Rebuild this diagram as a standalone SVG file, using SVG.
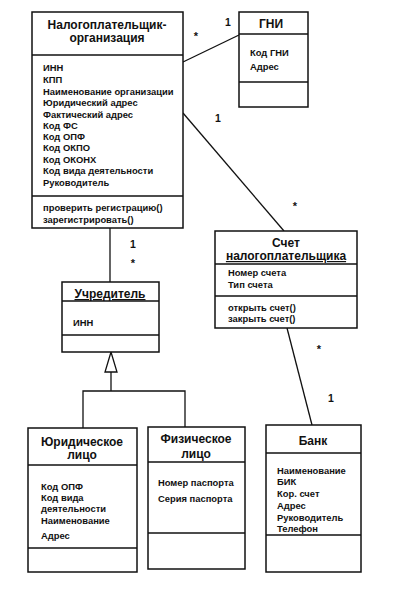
<svg xmlns="http://www.w3.org/2000/svg" width="400" height="600" viewBox="0 0 400 600">
<style>
.box{fill:#fff;stroke:#111;stroke-width:1.5}
.sep{stroke:#111;stroke-width:1.3}
.ln{stroke:#111;stroke-width:1.3;fill:none}
text{font-family:"Liberation Sans",Arial,sans-serif;font-weight:bold;fill:#111}
.t{font-size:12px;text-anchor:middle}
.a{font-size:9.4px}
.m{font-size:11px;text-anchor:middle}
.n{font-size:10.5px;text-anchor:middle}
.u{text-decoration:underline}
</style>
<rect width="400" height="600" fill="#fff"/>
<g id="connectors">
<line class="ln" x1="183" y1="62" x2="239" y2="35"/>
<line class="ln" x1="183" y1="113" x2="284" y2="231"/>
<line class="ln" x1="287" y1="328" x2="312" y2="425"/>
<line class="ln" x1="110" y1="228" x2="110" y2="282"/>
<polygon points="111,352 105,372 117,372" fill="#fff" stroke="#111" stroke-width="1.3"/>
<polyline class="ln" points="111,372 111,391"/>
<polyline class="ln" points="83,428 83,391 185,391 185,428"/>
<text class="m" x="196" y="40">*</text>
<text class="n" x="228" y="26">1</text>
<text class="n" x="218" y="122">1</text>
<text class="m" x="295" y="210">*</text>
<text class="n" x="133" y="248">1</text>
<text class="m" x="133" y="267">*</text>
<text class="m" x="319" y="353">*</text>
<text class="n" x="331" y="402">1</text>
</g>
<g id="org">
<rect class="box" x="32" y="12" width="151" height="216"/>
<line class="sep" x1="32" y1="55" x2="183" y2="55"/>
<line class="sep" x1="32" y1="196" x2="183" y2="196"/>
<text class="t" x="107" y="29">Налогоплательщик-</text>
<text class="t" x="107" y="42">организация</text>
<text class="a" x="43" y="71">ИНН</text>
<text class="a" x="43" y="83">КПП</text>
<text class="a" x="43" y="95">Наименование организации</text>
<text class="a" x="43" y="106">Юридический адрес</text>
<text class="a" x="43" y="118">Фактический адрес</text>
<text class="a" x="43" y="129">Код ФС</text>
<text class="a" x="43" y="140">Код ОПФ</text>
<text class="a" x="43" y="151">Код ОКПО</text>
<text class="a" x="43" y="163">Код ОКОНХ</text>
<text class="a" x="43" y="174">Код вида деятельности</text>
<text class="a" x="43" y="186">Руководитель</text>
<text class="a" x="43" y="211">проверить регистрацию()</text>
<text class="a" x="43" y="223">зарегистрировать()</text>
</g>
<g id="gni">
<rect class="box" x="239" y="12" width="69" height="95"/>
<line class="sep" x1="239" y1="34" x2="308" y2="34"/>
<line class="sep" x1="239" y1="82" x2="308" y2="82"/>
<text class="t" x="271" y="28">ГНИ</text>
<text class="a" x="250" y="56">Код ГНИ</text>
<text class="a" x="250" y="70">Адрес</text>
</g>
<g id="account">
<rect class="box" x="215" y="231" width="142" height="97"/>
<line class="sep" x1="215" y1="264" x2="357" y2="264"/>
<line class="sep" x1="215" y1="296" x2="357" y2="296"/>
<text class="t" x="286" y="247">Счет</text>
<text class="t u" x="286" y="260">налогоплательщика</text>
<text class="a" x="228" y="276">Номер счета</text>
<text class="a" x="228" y="288">Тип счета</text>
<text class="a" x="228" y="311">открыть счет()</text>
<text class="a" x="228" y="322">закрыть счет()</text>
</g>
<g id="founder">
<rect class="box" x="62" y="282" width="97" height="70"/>
<line class="sep" x1="62" y1="301" x2="159" y2="301"/>
<line class="sep" x1="62" y1="335" x2="159" y2="335"/>
<text class="t u" x="110" y="298">Учредитель</text>
<text class="a" x="73" y="326">ИНН</text>
</g>
<g id="legal">
<rect class="box" x="28" y="428" width="109" height="144"/>
<line class="sep" x1="28" y1="465" x2="137" y2="465"/>
<line class="sep" x1="28" y1="548" x2="137" y2="548"/>
<text class="t" x="82" y="446">Юридическое</text>
<text class="t" x="82" y="459">лицо</text>
<text class="a" x="41" y="490">Код ОПФ</text>
<text class="a" x="41" y="501">Код вида</text>
<text class="a" x="41" y="512">деятельности</text>
<text class="a" x="41" y="524">Наименование</text>
<text class="a" x="41" y="539">Адрес</text>
</g>
<g id="person">
<rect class="box" x="148" y="427" width="97" height="142"/>
<line class="sep" x1="148" y1="462" x2="245" y2="462"/>
<line class="sep" x1="148" y1="533" x2="245" y2="533"/>
<text class="t" x="196" y="443">Физическое</text>
<text class="t" x="196" y="458">лицо</text>
<text class="a" x="158" y="486">Номер паспорта</text>
<text class="a" x="158" y="502">Серия паспорта</text>
</g>
<g id="bank">
<rect class="box" x="266" y="425" width="95" height="147"/>
<line class="sep" x1="266" y1="453" x2="361" y2="453"/>
<line class="sep" x1="266" y1="535" x2="361" y2="535"/>
<text class="t" x="313" y="445">Банк</text>
<text class="a" x="277" y="474">Наименование</text>
<text class="a" x="277" y="485">БИК</text>
<text class="a" x="277" y="497">Кор. счет</text>
<text class="a" x="277" y="509">Адрес</text>
<text class="a" x="277" y="521">Руководитель</text>
<text class="a" x="277" y="532">Телефон</text>
</g>
</svg>
